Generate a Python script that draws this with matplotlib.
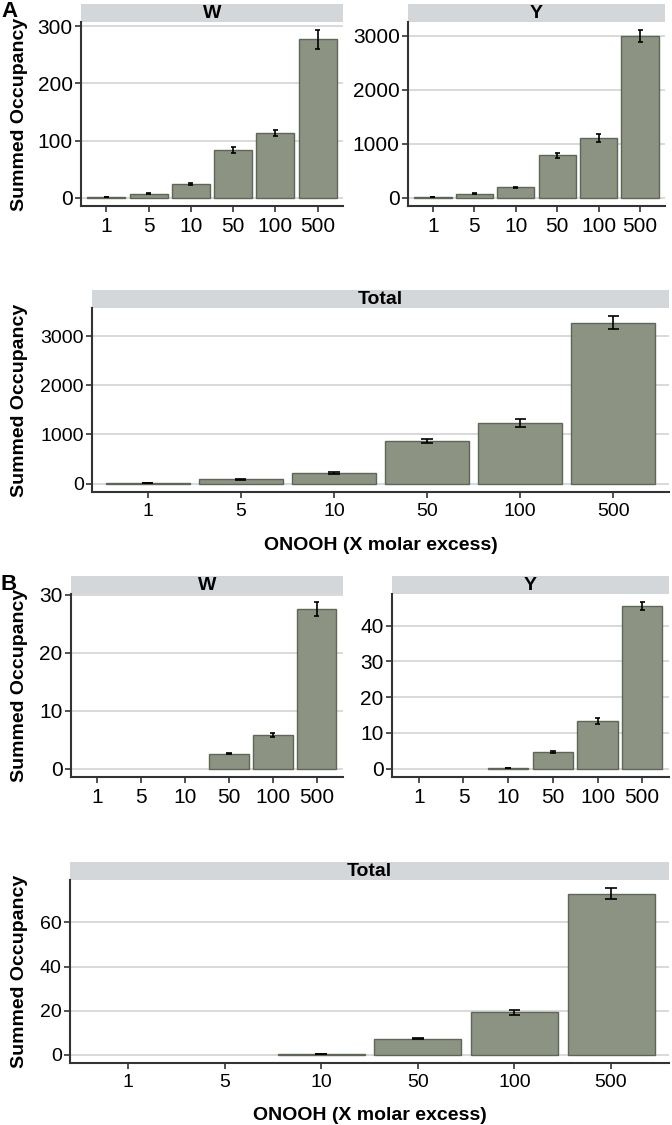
import numpy as np
import matplotlib
matplotlib.use("Agg")
import matplotlib.pyplot as plt
from matplotlib.patches import Rectangle

plt.rcParams['font.family'] = ['Liberation Sans', 'DejaVu Sans']

# x categories (ONOOH molar excess)
doses = ["1", "5", "10", "50", "100", "500"]

# panel A
a_w = [1, 7, 24, 83, 113, 277]
a_w_err = [0.5, 1, 2, 5, 5, 16]
a_y = [10, 75, 190, 785, 1110, 2990]
a_y_err = [3, 10, 15, 45, 70, 110]
a_tot = [12, 85, 220, 870, 1230, 3270]
a_tot_err = [4, 10, 20, 45, 75, 130]

# panel B
b_w = [0, 0, 0, 2.6, 5.8, 27.5]
b_w_err = [0, 0, 0, 0.1, 0.4, 1.2]
b_y = [0, 0, 0.15, 4.6, 13.3, 45.4]
b_y_err = [0, 0, 0.05, 0.3, 0.9, 1.1]
b_tot = [0, 0, 0.2, 7.2, 19.2, 73.0]
b_tot_err = [0, 0, 0.05, 0.3, 1.0, 2.5]

W, H = 672, 1125
BAR_FILL = "#8c9383"
BAR_EDGE = "#5d6657"
STRIP = "#d4d7d9"
GRID = "#d3d3d3"
AXC = "#333333"

fig = plt.figure(figsize=(W / 100, H / 100), dpi=100)


def panel(x0, x1, y0, y1, vals, errs, title, yticks, ylabel=False, xlabel=False, fs=14):
    ax = fig.add_axes([x0 / W, 1 - y1 / H, (x1 - x0) / W, (y1 - y0) / H])
    x = np.arange(1, len(doses) + 1)
    vals = np.array(vals, float)
    errs = np.array(errs, float)
    show = vals > 0
    ax.bar(x[show], vals[show], width=0.9, color=BAR_FILL, edgecolor=BAR_EDGE, linewidth=1.0, zorder=2)
    ax.vlines(x[show], (vals - errs)[show], (vals + errs)[show], color="black", lw=1.2, zorder=3)
    ax.hlines((vals - errs)[show], x[show] - 0.06, x[show] + 0.06, color="black", lw=1.2, zorder=3)
    ax.hlines((vals + errs)[show], x[show] - 0.06, x[show] + 0.06, color="black", lw=1.2, zorder=3)
    hi = (vals + errs).max()
    ax.set_ylim(-0.05 * hi, 1.05 * hi)
    ax.set_xlim(0.4, len(doses) + 0.6)
    ax.set_xticks(x)
    ax.set_xticklabels(doses)
    ax.set_yticks(yticks)
    ax.yaxis.grid(True, color=GRID, lw=1.2, zorder=0)
    ax.set_axisbelow(True)
    for s in ["top", "right"]:
        ax.spines[s].set_visible(False)
    for s in ["left", "bottom"]:
        ax.spines[s].set_color(AXC)
        ax.spines[s].set_linewidth(1.5)
    ax.tick_params(axis="x", length=4, width=1.2, color=AXC, labelsize=fs, pad=4)
    ax.tick_params(axis="y", length=4, width=1.2, color=AXC, labelsize=fs, pad=2)
    # facet strip
    sh = 18 / (y1 - y0)
    ax.add_patch(Rectangle((0, 1), 1, sh, transform=ax.transAxes, facecolor=STRIP,
                           edgecolor="none", clip_on=False))
    ax.text(0.5, 1 + sh / 2, title, transform=ax.transAxes, ha="center", va="center",
            fontsize=14, fontweight="bold")
    if ylabel:
        fig.text(20 / W, 1 - (y0 + y1) / 2 / H, "Summed Occupancy", rotation=90,
                 ha="center", va="center", fontsize=14, fontweight="bold")
    if xlabel:
        fig.text((x0 + x1) / 2 / W, 1 - (y1 + 53) / H, "ONOOH (X molar excess)",
                 ha="center", va="center", fontsize=14, fontweight="bold")
    return ax


# A
panel(81, 343, 22, 206, a_w, a_w_err, "W", [0, 100, 200, 300], ylabel=True, fs=15)
panel(408, 665, 22, 206, a_y, a_y_err, "Y", [0, 1000, 2000, 3000], fs=15)
panel(92, 669, 308, 492, a_tot, a_tot_err, "Total", [0, 1000, 2000, 3000], ylabel=True, xlabel=True)
# B
panel(71, 343, 594, 777, b_w, b_w_err, "W", [0, 10, 20, 30], ylabel=True, fs=15)
panel(392, 669, 594, 777, b_y, b_y_err, "Y", [0, 10, 20, 30, 40], fs=15)
panel(70, 669, 880, 1063, b_tot, b_tot_err, "Total", [0, 20, 40, 60], ylabel=True, xlabel=True)

fig.text(1 / W, 1 - 1 / H, "A", ha="left", va="top", fontsize=16, fontweight="bold")
fig.text(1 / W, 1 - 574 / H, "B", ha="left", va="top", fontsize=16, fontweight="bold")

fig.savefig("out.png", dpi=100)
